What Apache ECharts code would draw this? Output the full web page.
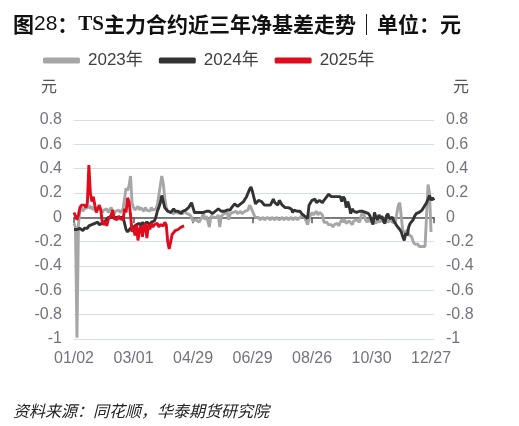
<!DOCTYPE html>
<html><head><meta charset="utf-8">
<script src="https://cdn.jsdelivr.net/npm/echarts@6/dist/echarts.min.js"></script>
<style>html,body{margin:0;padding:0;background:#fff}#c{width:519px;height:426px}</style>
</head><body><div id="c"></div>
<script>
// categories (MM/DD trading days)
const categories = ("01/02 01/03 01/04 01/05 01/08 01/09 01/10 01/11 01/12 01/15 01/16 01/17 01/18 01/19 01/22 01/23 01/24 01/25 01/26 01/29 01/30 01/31 " +
"02/01 02/02 02/05 02/06 02/07 02/08 02/09 02/13 02/15 02/19 02/20 02/21 02/22 02/23 02/26 02/27 02/28 02/29 " +
"03/01 03/04 03/05 03/06 03/07 03/08 03/11 03/12 03/13 03/14 03/15 03/18 03/19 03/20 03/21 03/22 03/25 03/26 03/27 03/28 03/29 " +
"04/01 04/02 04/03 04/04 04/08 04/09 04/10 04/11 04/12 04/15 04/16 04/17 04/18 04/19 04/22 04/23 04/24 04/25 04/26 " +
"04/29 04/30 05/06 05/07 05/08 05/09 05/10 05/13 05/14 05/15 05/16 05/17 05/20 05/21 05/22 05/23 05/24 05/27 05/28 05/29 05/30 05/31 " +
"06/03 06/04 06/05 06/06 06/07 06/12 06/13 06/14 06/17 06/18 06/19 06/20 06/21 06/24 06/25 06/26 06/27 06/28 " +
"06/29 07/01 07/02 07/03 07/04 07/05 07/08 07/09 07/10 07/11 07/12 07/15 07/16 07/17 07/18 07/19 07/22 07/23 07/24 07/25 07/26 07/29 07/30 07/31 " +
"08/01 08/05 08/06 08/07 08/08 08/09 08/12 08/13 08/14 08/15 08/16 08/19 08/20 08/21 08/22 08/23 " +
"08/26 08/27 08/28 08/29 08/30 09/02 09/03 09/04 09/05 09/06 09/09 09/10 09/11 09/12 09/13 09/18 09/19 09/20 09/23 09/24 09/25 09/26 09/27 09/30 " +
"10/08 10/09 10/10 10/11 10/14 10/15 10/16 10/17 10/18 10/21 10/22 10/23 10/24 10/25 10/28 10/29 " +
"10/30 10/31 11/04 11/05 11/06 11/07 11/08 11/11 11/12 11/13 11/14 11/15 11/18 11/19 11/20 11/21 11/22 11/25 11/26 11/27 11/28 11/29 " +
"12/03 12/04 12/05 12/06 12/09 12/10 12/11 12/12 12/13 12/16 12/17 12/18 12/19 12/20 12/23 12/24 12/25 12/26 " +
"12/27 12/30 12/31").split(" ");

const s2023 = [
-0.05,-0.08,-0.99,-0.06,0.06,0.08,0.05,0.07,0.06,0.08,
0.10,0.07,0.09,0.06,0.08,0.05,0.07,0.09,0.06,0.04,
0.06,0.05,0.07,0.04,0.06,0.08,0.05,0.03,0.05,0.04,
0.06,0.04,0.05,0.07,0.08,0.24,0.22,0.26,0.34,0.12,
0.08,0.06,0.07,0.09,0.06,0.08,0.07,0.05,0.08,0.06,
0.07,0.05,0.08,0.06,0.05,0.07,0.10,0.18,0.26,0.34,
0.28,0.16,0.08,0.05,0.06,0.04,0.05,0.03,0.04,0.05,
0.03,0.05,0.04,0.03,0.05,0.04,0.03,0.04,0.02,0.00,
-0.03,-0.04,-0.02,-0.03,-0.04,-0.02,0.00,0.04,-0.02,0.01,
0.02,-0.08,0.01,0.02,0.00,0.01,0.00,0.02,-0.08,0.01,
0.02,0.03,0.02,0.04,-0.02,0.03,0.02,0.04,0.05,0.05,
0.03,0.04,0.05,0.03,0.04,0.05,0.04,0.06,0.10,0.08,
0.05,0.02,0.00,-0.01,0.00,-0.02,-0.01,0.00,-0.02,-0.01,
0.00,-0.01,-0.02,0.00,-0.01,-0.02,0.00,-0.01,-0.02,-0.01,
0.00,-0.02,-0.01,0.00,-0.02,-0.01,0.00,-0.02,-0.01,0.00,
-0.02,-0.01,0.00,0.01,0.02,0.00,-0.01,-0.06,-0.05,0.02,
0.04,0.02,0.03,0.05,0.02,0.04,0.03,0.02,-0.04,-0.05,
-0.04,-0.06,-0.07,-0.06,-0.08,-0.06,-0.07,-0.05,-0.07,-0.04,
-0.02,-0.04,-0.02,-0.05,-0.06,-0.03,-0.04,-0.06,-0.03,-0.04,
-0.02,-0.03,-0.04,0.01,0.05,0.02,-0.02,-0.04,-0.02,-0.03,
-0.04,-0.02,-0.03,-0.05,-0.02,-0.04,-0.03,-0.02,-0.04,-0.03,
-0.02,-0.04,-0.03,-0.02,-0.04,-0.03,-0.04,-0.04,0.10,0.12,
0.12,-0.11,-0.12,-0.13,-0.10,-0.14,-0.15,-0.16,-0.20,-0.22,
-0.23,-0.22,-0.24,-0.23,-0.24,-0.23,-0.24,-0.23,0.27,0.20,
-0.12];

const s2024 = [
-0.10,-0.11,-0.10,-0.11,-0.09,-0.10,-0.11,-0.09,-0.08,-0.09,
-0.07,-0.08,-0.06,-0.07,-0.05,-0.06,-0.04,-0.06,-0.05,-0.05,
-0.04,-0.03,-0.02,0.00,0.01,0.00,0.01,0.00,0.01,0.00,
0.01,0.00,0.01,0.00,0.01,-0.10,-0.12,-0.11,-0.09,-0.10,
-0.08,-0.09,-0.06,-0.07,-0.05,-0.07,-0.04,-0.06,-0.05,-0.04,
-0.05,-0.06,-0.04,-0.05,-0.03,0.00,0.05,0.08,0.12,0.18,
0.13,0.08,0.07,0.05,0.06,0.04,0.05,0.07,0.05,0.04,
0.05,0.04,0.03,0.05,0.04,0.06,0.05,0.08,0.10,0.12,
0.08,0.04,0.03,0.04,0.03,0.04,0.03,0.04,0.03,0.05,
0.06,0.05,0.04,0.03,0.04,0.05,0.06,0.07,0.06,0.05,
0.06,0.05,0.06,0.06,0.07,0.06,0.08,0.09,0.11,0.10,
0.09,0.10,0.11,0.10,0.13,0.15,0.17,0.20,0.23,0.25,
0.21,0.16,0.11,0.12,0.14,0.13,0.13,0.12,0.10,0.11,
0.10,0.09,0.10,0.10,0.15,0.12,0.11,0.10,0.14,0.12,
0.10,0.09,0.08,0.07,0.08,0.08,0.07,0.04,0.06,0.07,
0.05,0.04,0.05,0.03,0.02,0.01,0.00,-0.01,0.10,0.11,
0.14,0.13,0.15,0.12,0.11,0.14,0.13,0.12,0.14,0.15,
0.17,0.19,0.18,0.17,0.18,0.17,0.16,0.17,0.16,0.17,
0.13,0.17,0.15,0.08,0.13,0.09,0.03,0.07,0.05,0.06,
0.04,0.05,0.05,0.04,0.05,0.06,0.04,0.05,0.03,0.01,
0.02,-0.06,0.04,0.00,-0.02,0.02,-0.01,0.01,-0.03,-0.05,
0.01,0.03,-0.01,-0.02,0.00,-0.03,-0.04,-0.07,-0.06,-0.10,
-0.12,-0.16,-0.19,-0.13,-0.15,-0.08,-0.05,-0.06,-0.02,0.01,
0.03,0.02,0.04,0.05,0.06,0.08,0.07,0.12,0.13,0.18,
0.14,0.16,0.14];

const s2025 = [
0.04,0.01,-0.02,0.02,0.08,0.10,0.09,0.10,0.08,0.12,
0.43,0.20,0.13,0.17,0.10,0.04,0.07,0.10,0.06,-0.04,
-0.06,-0.03,-0.07,-0.02,0.00,0.02,0.06,-0.01,0.00,-0.02,
0.01,-0.01,0.00,-0.02,0.07,0.04,0.16,0.13,0.02,-0.12,
-0.08,-0.15,-0.06,-0.19,-0.10,-0.07,-0.16,-0.08,-0.05,-0.17,
-0.06,-0.10,-0.05,-0.08,-0.06,-0.07,-0.05,-0.08,-0.06,-0.05,
-0.07,-0.04,-0.06,-0.20,-0.26,-0.27,-0.14,-0.13,-0.11,-0.12,
-0.10,-0.09,-0.08,-0.08,-0.07];

const seriesNames = ["2023年", "2024年", "2025年"];
const seriesColors = ["#a6a6a6", "#333333", "#e00b1c"];
const yTicks = { min: -1, max: 0.8, interval: 0.2 };

const FONT = "'Liberation Sans','Noto Sans CJK SC',sans-serif";
const CJK = "'Noto Sans CJK SC',sans-serif";
const chart = echarts.init(document.getElementById('c'), null, { renderer: 'canvas' });
const lastIdx = categories.length - 1;
const yAxisBase = (pos) => ({
  type: 'value', position: pos, min: yTicks.min, max: yTicks.max, interval: yTicks.interval,
  name: '元', nameLocation: 'end', nameGap: 26,
  nameTextStyle: { color: '#555', fontSize: 16, fontFamily: CJK,
    align: pos === 'left' ? 'right' : 'left',
    padding: pos === 'left' ? [0, 17, 0, 0] : [0, 0, 0, 19] },
  axisLine: { show: false }, axisTick: { show: false },
  axisLabel: { color: '#737380', fontSize: 16, fontFamily: FONT, margin: 12 },
  splitLine: { show: pos === 'left', lineStyle: { color: '#d8dce8', width: 1 } }
});
chart.setOption({
  animation: false,
  title: [{
    left: 8, top: 9,
    text: '{a|图}{b|28}{a|：}{c|TS}{a|主力合约近三年净基差走势｜单位：元}',
    textStyle: { rich: {
      a: { fontFamily: CJK, fontWeight: 'bold', fontSize: 21, color: '#111' },
      b: { fontFamily: FONT, fontWeight: 'normal', fontSize: 21, color: '#111' },
      c: { fontFamily: "'Liberation Serif',serif", fontWeight: 'bold', fontSize: 21, color: '#111' }
    } }
  }, {
    left: 8, top: 398, text: '资料来源：同花顺，华泰期货研究院',
    textStyle: { fontFamily: CJK, fontStyle: 'italic', fontWeight: 'normal', fontSize: 16, color: '#222' }
  }],
  legend: {
    top: 47, left: 38, itemWidth: 37, itemHeight: 6, itemGap: 16, icon: 'roundRect',
    textStyle: { fontFamily: FONT, fontSize: 17, color: '#404040', padding: [0, 0, 0, 3] },
    data: seriesNames
  },
  grid: { left: 74, right: 85, top: 120, bottom: 87, containLabel: false },
  xAxis: {
    type: 'category', data: categories, boundaryGap: false,
    axisLine: { lineStyle: { color: '#555', width: 1.5 } },
    axisTick: { length: 6, lineStyle: { color: '#555', width: 1.5 },
      interval: (i) => i % 40 === 0 || i === lastIdx },
    axisLabel: { interval: 39, color: '#737380', fontSize: 16, fontFamily: FONT, margin: 12 },
    splitLine: { show: false }
  },
  yAxis: [yAxisBase('left'), yAxisBase('right')],
  series: [s2023, s2024, s2025].map((d, k) => ({
    name: seriesNames[k], type: 'line', data: d, showSymbol: false, symbol: 'none',
    yAxisIndex: 0, lineStyle: { color: seriesColors[k], width: 2.9 },
    itemStyle: { color: seriesColors[k] }, z: 2 + k
  }))
});
</script></body></html>
